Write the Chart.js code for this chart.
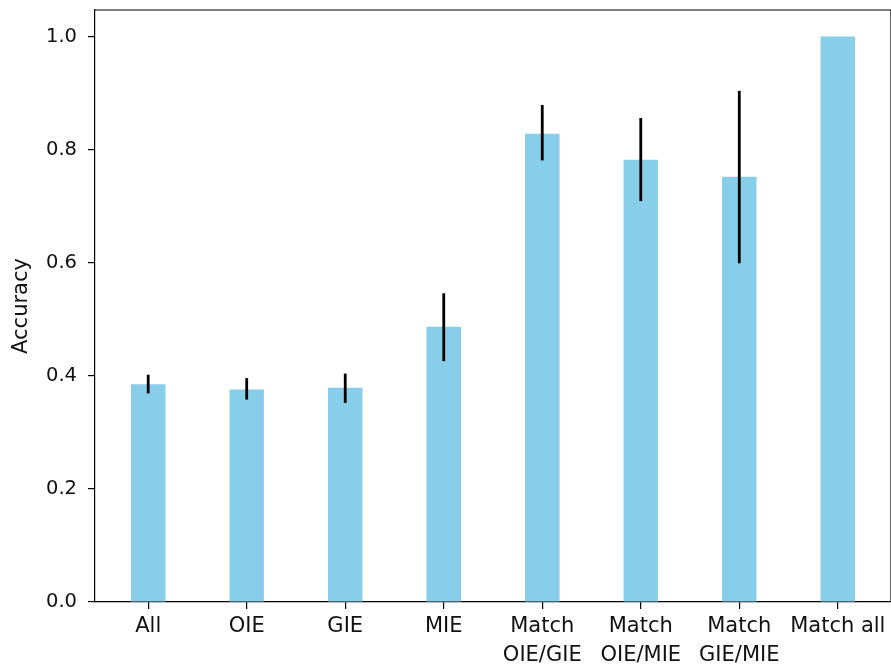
<!DOCTYPE html>
<html>
<head>
<meta charset="utf-8">
<script src="https://cdn.jsdelivr.net/npm/chart.js@4/dist/chart.umd.min.js"></script>
<style>
  body { margin: 0; background: #fff; }
</style>
</head>
<body>
<canvas id="accChart" width="891" height="666"></canvas>
<script>
// data
const categories = ["All", "OIE", "GIE", "MIE", ["Match", "OIE/GIE"], ["Match", "OIE/MIE"], ["Match", "GIE/MIE"], "Match all"];
const accuracy = [0.385, 0.376, 0.379, 0.487, 0.828, 0.782, 0.752, 1.0];
const errLow = [0.369, 0.358, 0.352, 0.426, 0.781, 0.709, 0.599, null];
const errHigh = [0.402, 0.396, 0.404, 0.546, 0.879, 0.856, 0.904, null];
const yTicks = [0, 0.2, 0.4, 0.6, 0.8, 1.0];

const FONT = "'DejaVu Sans', sans-serif";
const FSIZE = 21;

// error bars + top/right spines
const errorBars = {
  id: "errorBars",
  afterDatasetsDraw(chart) {
    const ctx = chart.ctx;
    const meta = chart.getDatasetMeta(0);
    const y = chart.scales.y;
    ctx.save();
    ctx.strokeStyle = "#000";
    ctx.lineWidth = 2.8;
    meta.data.forEach((bar, i) => {
      if (errLow[i] == null) return;
      ctx.beginPath();
      ctx.moveTo(bar.x, y.getPixelForValue(errLow[i]));
      ctx.lineTo(bar.x, y.getPixelForValue(errHigh[i]));
      ctx.stroke();
    });
    const a = chart.chartArea;
    ctx.lineWidth = 1.2;
    ctx.beginPath();
    ctx.moveTo(a.left, a.top);
    ctx.lineTo(a.right, a.top);
    ctx.lineTo(a.right, a.bottom);
    ctx.stroke();
    ctx.restore();
  }
};

new Chart(document.getElementById("accChart"), {
  type: "bar",
  data: {
    labels: categories,
    datasets: [{
      data: accuracy,
      backgroundColor: "#87CEEB",
      barPercentage: 0.35,
      categoryPercentage: 1.0,
    }],
  },
  options: {
    responsive: false,
    animation: false,
    layout: { padding: { top: 10, right: 0, left: 0, bottom: 0 } },
    plugins: {
      legend: { display: false },
      tooltip: { enabled: false },
    },
    scales: {
      x: {
        grid: { drawOnChartArea: false, drawTicks: true, tickLength: 7, color: "#000", lineWidth: 1.2, offset: false },
        border: { display: true, color: "#000", width: 1.2 },
        ticks: {
          color: "#111",
          font: { family: FONT, size: FSIZE, lineHeight: 1.38 },
          maxRotation: 0,
          autoSkip: false,
          padding: 3,
        },
        afterFit(scale) {
          scale.height = 64;
          scale.paddingLeft = 0;
          scale.paddingRight = 0;
        },
        // matplotlib-style margins: range -0.54 .. 7.54
        afterUpdate(scale) {
          scale._startValue = -0.54;
          scale._endValue = 7.54;
          scale._valueRange = 8.08;
        },
      },
      y: {
        min: 0,
        max: 1.047,
        grid: { drawOnChartArea: false, drawTicks: true, tickLength: 7, color: "#000", lineWidth: 1.2 },
        border: { display: true, color: "#000", width: 1.2 },
        afterBuildTicks(scale) { scale.ticks = yTicks.map(v => ({ value: v })); },
        ticks: {
          color: "#111",
          font: { family: FONT, size: 19.5 },
          padding: 11,
          callback: v => v.toFixed(1),
        },
        title: {
          display: true,
          text: "Accuracy",
          color: "#111",
          font: { family: FONT, size: FSIZE },
          padding: { top: 9, bottom: 0 },
        },
        afterFit(scale) {
          scale.width = 95;
          scale.paddingTop = 0;
          scale.paddingBottom = 0;
        },
      },
    },
  },
  plugins: [errorBars],
});
</script>
</body>
</html>
